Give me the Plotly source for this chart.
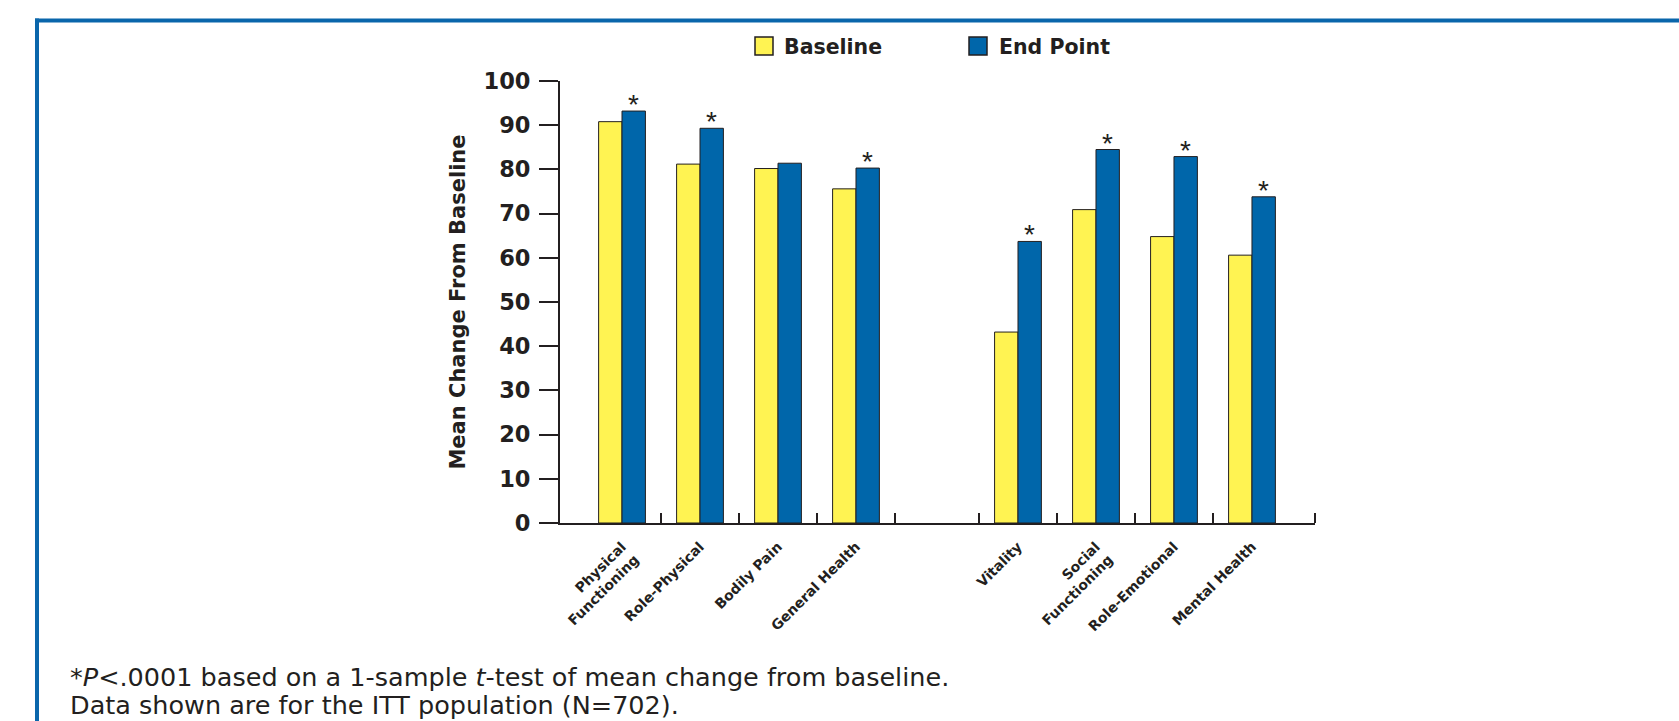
import plotly.graph_objects as go

# ---------------- data ----------------
categories = ["Physical<br>Functioning", "Role-Physical", "Bodily Pain", "General Health",
              "Vitality", "Social<br>Functioning", "Role-Emotional", "Mental Health"]
baseline = [90.8, 81.2, 80.2, 75.6, 43.2, 70.9, 64.8, 60.6]
end_point = [93.2, 89.3, 81.4, 80.3, 63.7, 84.5, 82.9, 73.8]
significant = [True, True, False, True, True, True, True, True]
y_ticks = [0, 10, 20, 30, 40, 50, 60, 70, 80, 90, 100]
series_names = ["Baseline", "End Point"]
footnote_1 = "*<i>P</i>&lt;.0001 based on a 1-sample <i>t</i>-test of mean change from baseline."
footnote_2 = "Data shown are for the ITT population (N=702)."

# ---------------- layout constants ----------------
W, H = 1679, 721
L, R, T, B = 560, 1679 - 1315, 81, 721 - 523.3
YELLOW = "#fff352"
BLUE = "#0066aa"
INK = "#231f20"
FRAME = "#0a66ab"
BOLD = "DejaVu Sans"
GAP = 1.077          # extra space between the two domain blocks (category widths)
BAR_W = 0.30
X_RANGE = [-0.795, 8.885]

x_pos = [i + (GAP if i >= 4 else 0) for i in range(len(categories))]
boundaries = [x_pos[i] + 0.5 for i in range(4)] + [x_pos[i] - 0.5 for i in range(4, 8)] + [X_RANGE[1]]

plot_w = W - L - R
plot_h = H - T - B


def px_x(px):
    return (px - L) / plot_w


def px_y(py):
    return (H - B - py) / plot_h


fig = go.Figure()
fig.add_trace(go.Bar(x=x_pos, y=baseline, width=BAR_W, offset=-BAR_W, name=series_names[0],
                     marker=dict(color=YELLOW, line=dict(color=INK, width=1)), showlegend=False))
fig.add_trace(go.Bar(x=x_pos, y=end_point, width=BAR_W, offset=0, name=series_names[1],
                     marker=dict(color=BLUE, line=dict(color=INK, width=1)), showlegend=False))

annotations = []
for xp, v, sig in zip(x_pos, end_point, significant):
    if sig:
        annotations.append(dict(x=xp + BAR_W / 2, y=v, xref="x", yref="y", text="*",
                                showarrow=False, yanchor="bottom", yshift=-11,
                                font=dict(family="Liberation Sans", size=28, color=INK)))

# legend (drawn manually to match the reference's larger swatches)
shapes = []
legend_items = [(755, YELLOW, series_names[0], 782), (969, BLUE, series_names[1], 997)]
for sx, col, name, tx in legend_items:
    shapes.append(dict(type="rect", xref="paper", yref="paper",
                       x0=px_x(sx), x1=px_x(sx + 18), y0=px_y(55), y1=px_y(37),
                       fillcolor=col, line=dict(color=INK, width=1.5)))
    annotations.append(dict(x=px_x(tx), y=px_y(46.5), xref="paper", yref="paper", text=name,
                            showarrow=False, xanchor="left", yanchor="middle",
                            font=dict(family=BOLD, size=20.5, color=INK, weight="bold")))

# blue frame
shapes.append(dict(type="line", xref="paper", yref="paper", x0=px_x(35), x1=px_x(1700),
                   y0=px_y(20.5), y1=px_y(20.5), line=dict(color=FRAME, width=4)))
shapes.append(dict(type="line", xref="paper", yref="paper", x0=px_x(37), x1=px_x(37),
                   y0=px_y(18.5), y1=px_y(740), line=dict(color=FRAME, width=4)))

# footnotes
annotations.append(dict(x=px_x(68), y=px_y(677), xref="paper", yref="paper", text=footnote_1,
                        showarrow=False, xanchor="left", yanchor="middle",
                        font=dict(family="DejaVu Sans", size=25.5, color=INK)))
annotations.append(dict(x=px_x(68), y=px_y(705), xref="paper", yref="paper", text=footnote_2,
                        showarrow=False, xanchor="left", yanchor="middle",
                        font=dict(family="DejaVu Sans", size=25.5, color=INK)))

fig.update_layout(
    width=W, height=H,
    margin=dict(l=L, r=R, t=T, b=B, pad=0),
    paper_bgcolor="white", plot_bgcolor="white",
    showlegend=False,
    xaxis=dict(range=X_RANGE, tickmode="array", tickvals=x_pos, ticktext=categories,
               tickangle=-45, ticks="", ticklabelstandoff=8,
               tickfont=dict(family=BOLD, size=14, color=INK, weight="bold"),
               showline=True, linecolor=INK, linewidth=2, showgrid=False, zeroline=False,
               minor=dict(tickmode="array", tickvals=boundaries, ticks="inside", ticklen=10,
                          tickwidth=2, tickcolor=INK, showgrid=False)),
    yaxis=dict(range=[0, 100], tickmode="array", tickvals=y_ticks, ticks="outside", ticklen=19,
               tickwidth=2, tickcolor=INK, ticklabelstandoff=4,
               tickfont=dict(family=BOLD, size=22.5, color=INK, weight="bold"),
               showline=True, linecolor=INK, linewidth=2, showgrid=False, zeroline=False,
               title=dict(text="Mean Change From Baseline", standoff=12,
                          font=dict(family=BOLD, size=21, color=INK, weight="bold"))),
    shapes=shapes,
    annotations=annotations,
)

fig.write_html("out.html", config={"displayModeBar": False},
               post_script="document.body.style.margin='0';")
